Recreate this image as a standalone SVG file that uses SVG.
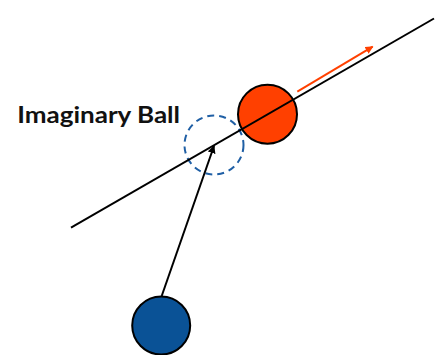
<svg xmlns="http://www.w3.org/2000/svg" width="435" height="355" viewBox="0 0 435 355">
<defs>
<marker id="ah-black" viewBox="0 0 10 10" refX="9" refY="5" markerWidth="4" markerHeight="4" orient="auto" markerUnits="strokeWidth">
<path d="M0,0 L10,5 L0,10 z" fill="#000"/>
</marker>
<marker id="ah-red" viewBox="0 0 10 10" refX="9" refY="5" markerWidth="4" markerHeight="4" orient="auto" markerUnits="strokeWidth">
<path d="M0,0 L10,5 L0,10 z" fill="#ff4000"/>
</marker>
</defs>
<style>
.ball{stroke:#000;stroke-width:2}
.line{stroke:#000;stroke-width:2;fill:none}
.label{font-family:Lato,"Open Sans",sans-serif;font-weight:bold;font-size:22.5px;fill:#111}
</style>
<rect width="435" height="355" fill="#fff"/>
<g id="imaginary-ball">
<circle cx="214" cy="145" r="29.5" fill="none" stroke="#1f5fa5" stroke-width="2" stroke-dasharray="7,5"/>
</g>
<g id="red-ball">
<circle class="ball" cx="267.5" cy="114.2" r="29.5" fill="#ff4000"/>
</g>
<g id="blue-ball">
<circle class="ball" cx="161.2" cy="325.5" r="29" fill="#0a5296"/>
</g>
<g id="connectors">
<line class="line" x1="71" y1="227.7" x2="434" y2="18.5"/>
<line class="line" x1="161.7" y1="296" x2="214" y2="146" marker-end="url(#ah-black)"/>
<line x1="297.3" y1="91.7" x2="372.7" y2="46.7" stroke="#ff4000" stroke-width="2" marker-end="url(#ah-red)"/>
</g>
<g id="label">
<text class="label" x="17.3" y="123.3" textLength="162.7" lengthAdjust="spacingAndGlyphs">Imaginary Ball</text>
</g>
</svg>
